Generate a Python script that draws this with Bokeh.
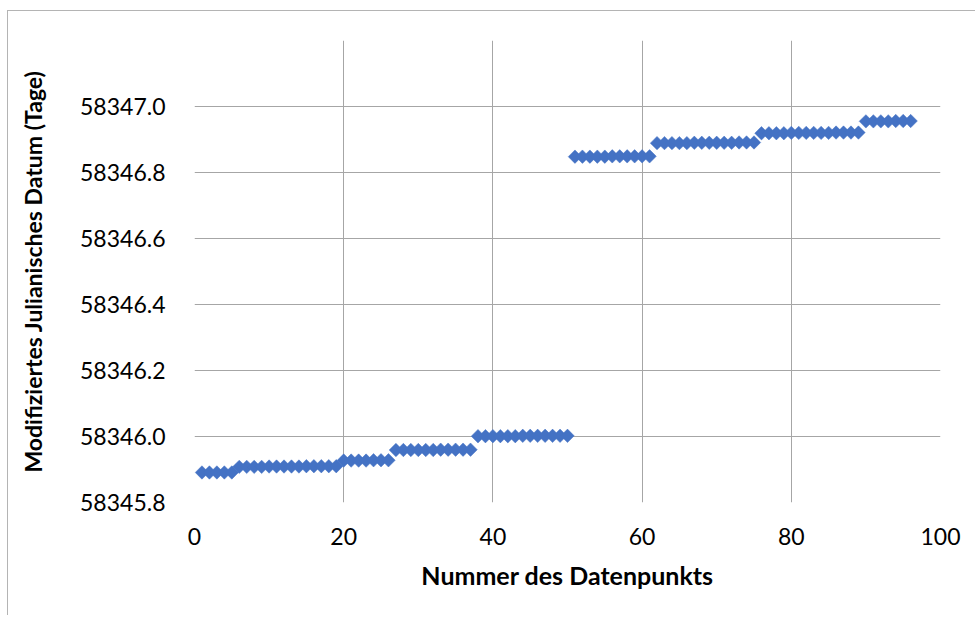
from bokeh.plotting import figure
from bokeh.models import FixedTicker, PrintfTickFormatter, Range1d
from bokeh.embed import file_html
from bokeh.resources import INLINE

# Data point numbers
point_nr = list(range(1, 97))

# Modified Julian Date per data point
mjd = [
    58345.891, 58345.891, 58345.891, 58345.891, 58345.891,
    58345.908, 58345.908, 58345.908, 58345.908, 58345.909, 58345.909, 58345.909,
    58345.909, 58345.909, 58345.910, 58345.910, 58345.910, 58345.910, 58345.910,
    58345.927, 58345.927, 58345.927, 58345.927, 58345.928, 58345.928, 58345.928,
    58345.959, 58345.959, 58345.959, 58345.959, 58345.959, 58345.959, 58345.960,
    58345.960, 58345.960, 58345.960, 58345.960,
    58346.001, 58346.001, 58346.001, 58346.001, 58346.001, 58346.001, 58346.002,
    58346.002, 58346.002, 58346.002, 58346.002, 58346.002, 58346.002,
    58346.848, 58346.848, 58346.848, 58346.848, 58346.848, 58346.849, 58346.849,
    58346.849, 58346.849, 58346.849, 58346.849,
    58346.889, 58346.889, 58346.889, 58346.889, 58346.889, 58346.890, 58346.890,
    58346.890, 58346.890, 58346.890, 58346.890, 58346.891, 58346.891, 58346.891,
    58346.919, 58346.919, 58346.919, 58346.919, 58346.920, 58346.920, 58346.920,
    58346.920, 58346.920, 58346.920, 58346.921, 58346.921, 58346.921, 58346.921,
    58346.955, 58346.955, 58346.955, 58346.955, 58346.956, 58346.956, 58346.956,
]

x_ticks = [0, 20, 40, 60, 80, 100]
y_ticks = [58345.8, 58346.0, 58346.2, 58346.4, 58346.6, 58346.8, 58347.0]

FONT = "Lato"

p = figure(width=968, height=605, output_backend="svg", toolbar_location=None,
           x_range=Range1d(0, 100), y_range=Range1d(58345.8, 58347.2),
           min_border_left=186, min_border_right=36, min_border_top=29,
           min_border_bottom=114)
p.styles = {"margin-left": "7px", "margin-top": "10px",
            "border-left": "1px solid #b4b4b4", "border-top": "1px solid #b4b4b4"}

p.scatter(point_nr, mjd, marker="square", angle=0.785398, size=9.5,
          fill_color="#4472C4", line_color="#4472C4", line_width=0.5)

p.outline_line_color = None
p.background_fill_color = "white"
p.border_fill_color = "white"

for ax in (p.xaxis[0], p.yaxis[0]):
    ax.axis_line_color = None
    ax.major_tick_line_color = None
    ax.minor_tick_line_color = None
    ax.major_label_text_font = FONT
    ax.major_label_text_font_size = "23px"
    ax.major_label_text_color = "#000000"
    ax.axis_label_text_font = FONT
    ax.axis_label_text_font_style = "bold"
    ax.axis_label_text_color = "#000000"

p.xaxis.axis_label_text_font_size = "25px"
p.yaxis.axis_label_text_font_size = "23px"
p.xaxis.ticker = FixedTicker(ticks=x_ticks)
p.yaxis.ticker = FixedTicker(ticks=y_ticks)
p.yaxis.formatter = PrintfTickFormatter(format="%.1f")
p.xaxis.axis_label = "Nummer des Datenpunkts"
p.yaxis.axis_label = "Modifiziertes Julianisches Datum (Tage)"
p.xaxis.major_label_standoff = 19
p.yaxis.major_label_standoff = 23
p.xaxis.axis_label_standoff = 12
p.yaxis.axis_label_standoff = 30

p.xgrid.grid_line_color = "#a6a6a6"
p.ygrid.grid_line_color = "#a6a6a6"
p.xgrid.grid_line_width = 1
p.ygrid.grid_line_width = 1

open("out.html", "w").write(file_html(p, INLINE))
